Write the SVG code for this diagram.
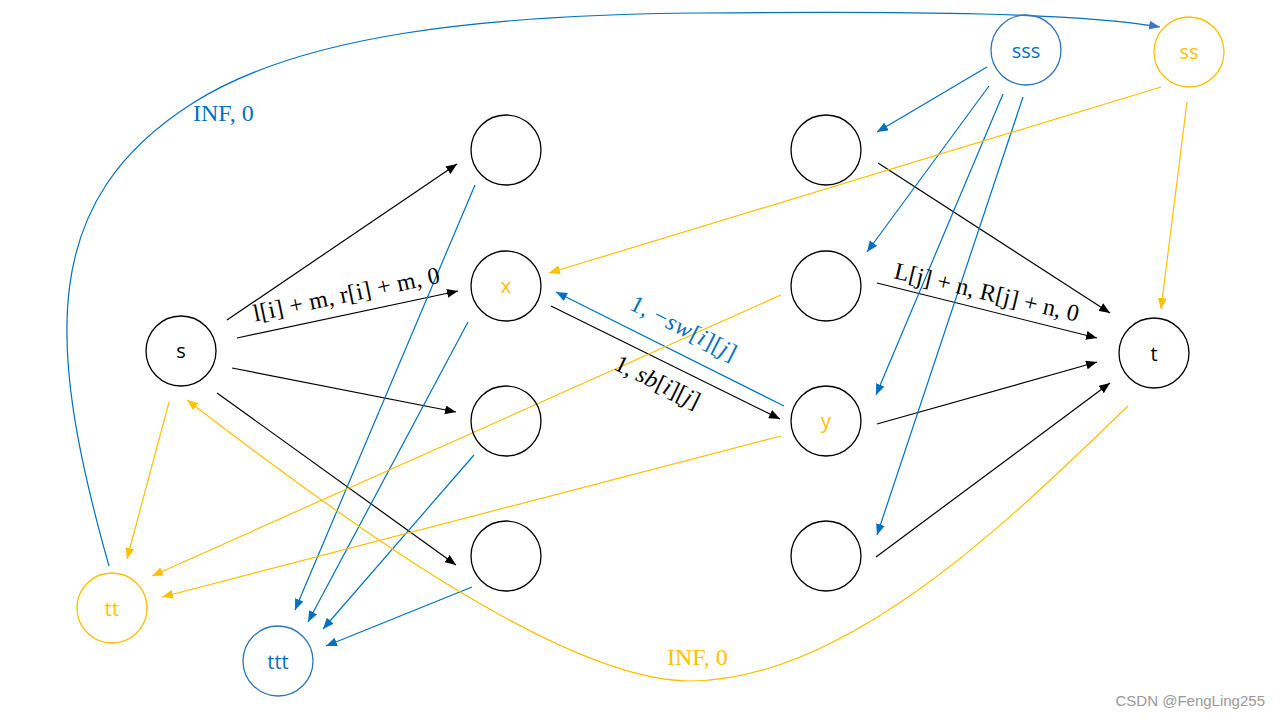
<svg xmlns="http://www.w3.org/2000/svg" width="1280" height="720" viewBox="0 0 1280 720">
<style>
.n{fill:none;stroke-width:1.3}
.k{stroke:#000}
.b{stroke:#0070C0}
.y{stroke:#FFC000}
.e{fill:none;stroke-width:1.2}
.lbl{font-family:"Liberation Serif","Times New Roman",serif;font-size:24px}
.nt{font-family:"Open Sans","Noto Sans",sans-serif;font-size:20px;text-anchor:middle}
</style>
<defs>
<marker id="ak" markerUnits="userSpaceOnUse" markerWidth="12" markerHeight="9" refX="11" refY="4.5" orient="auto"><path d="M0,0 L11,4.5 L0,9 z" fill="#000"/></marker>
<marker id="ab" markerUnits="userSpaceOnUse" markerWidth="12" markerHeight="9" refX="11" refY="4.5" orient="auto"><path d="M0,0 L11,4.5 L0,9 z" fill="#0070C0"/></marker>
<marker id="ab2" markerUnits="userSpaceOnUse" markerWidth="12" markerHeight="9" refX="11" refY="4.5" orient="auto"><path d="M0,0 L11,4.5 L0,9 z" fill="#4472C4"/></marker>
<marker id="ay" markerUnits="userSpaceOnUse" markerWidth="12" markerHeight="9" refX="11" refY="4.5" orient="auto"><path d="M0,0 L11,4.5 L0,9 z" fill="#FFC000"/></marker>
</defs>
<rect width="1280" height="720" fill="#fff"/>

<g id="connectors">
<g class="e k" marker-end="url(#ak)">
<line x1="227" y1="320" x2="457" y2="164"/>
<line x1="237" y1="338" x2="458" y2="291"/>
<line x1="232" y1="368" x2="456" y2="412"/>
<line x1="217" y1="393" x2="456" y2="565"/>
<line x1="551" y1="306" x2="780" y2="419"/>
<line x1="878" y1="163" x2="1110" y2="313"/>
<line x1="877" y1="283" x2="1097" y2="338"/>
<line x1="877" y1="424" x2="1097" y2="362"/>
<line x1="876" y1="557" x2="1110" y2="383"/>
</g>
<g class="e b" marker-end="url(#ab)">
<line x1="784" y1="406" x2="556" y2="292"/>
<line x1="987" y1="67" x2="877" y2="132"/>
<line x1="989" y1="86" x2="867" y2="252"/>
<line x1="1003" y1="94" x2="876" y2="395"/>
<line x1="1023" y1="97" x2="877" y2="535"/>
<line x1="475" y1="185" x2="295" y2="610"/>
<line x1="468" y1="322" x2="308" y2="622"/>
<line x1="474" y1="455" x2="323" y2="629"/>
<line x1="472" y1="587" x2="326" y2="646"/>
</g>
<path class="e b" marker-end="url(#ab2)" d="M109,566 C45,340 40,200 193,103 C300,35 480,15 700,13 C920,11 1080,13 1160,27"/>
<g class="e y" marker-end="url(#ay)">
<line x1="1161" y1="87" x2="549" y2="273"/>
<line x1="1187" y1="102" x2="1161" y2="309"/>
<line x1="781" y1="295" x2="152" y2="576"/>
<line x1="781" y1="436" x2="162" y2="597"/>
<line x1="169" y1="402" x2="127" y2="559"/>
<path d="M1128,406 C1020,510 850,681 690,681 C560,681 330,510 187,400"/>
</g>
</g>

<g id="labels">
<text class="lbl" fill="#000" x="348" y="302" text-anchor="middle" textLength="190" transform="rotate(-11.8 348 302)">l[i] + m, r[i] + m, 0</text>
<text class="lbl" fill="#000" x="985" y="300" text-anchor="middle" textLength="189" transform="rotate(13.4 985 300)">L[j] + n, R[j] + n, 0</text>
<text class="lbl" fill="#000" x="654" y="389" text-anchor="middle" textLength="92" transform="rotate(26 654 389)">1, <tspan font-style="italic">sb</tspan>[<tspan font-style="italic">i</tspan>][<tspan font-style="italic">j</tspan>]</text>
<text class="lbl" fill="#0070C0" x="680" y="335" text-anchor="middle" textLength="116" transform="rotate(27 680 335)">1, −<tspan font-style="italic">sw</tspan>[<tspan font-style="italic">i</tspan>][<tspan font-style="italic">j</tspan>]</text>
<text class="lbl" fill="#0070C0" x="193" y="121">INF, 0</text>
<text class="lbl" fill="#FFC000" x="667" y="665">INF, 0</text>
</g>

<g id="node-s"><circle class="n k" cx="181" cy="351" r="35"/><text class="nt" x="181" y="358" fill="#000">s</text></g>
<g id="node-l1"><circle class="n k" cx="506" cy="150" r="35"/></g>
<g id="node-x"><circle class="n k" cx="506" cy="286" r="35"/><text class="nt" x="506" y="293" fill="#FFC000">x</text></g>
<g id="node-l3"><circle class="n k" cx="506" cy="421" r="35"/></g>
<g id="node-l4"><circle class="n k" cx="506" cy="556" r="35"/></g>
<g id="node-r1"><circle class="n k" cx="826" cy="150" r="35"/></g>
<g id="node-r2"><circle class="n k" cx="826" cy="286" r="35"/></g>
<g id="node-y"><circle class="n k" cx="826" cy="421" r="35"/><text class="nt" x="826" y="428" fill="#FFC000">y</text></g>
<g id="node-r4"><circle class="n k" cx="826" cy="556" r="35"/></g>
<g id="node-t"><circle class="n k" cx="1154" cy="353" r="35"/><text class="nt" x="1154" y="361" fill="#000">t</text></g>
<g id="node-sss"><circle class="n" stroke="#2E75B6" cx="1026" cy="50" r="35"/><text class="nt" x="1026" y="58" fill="#0070C0">sss</text></g>
<g id="node-ss"><circle class="n y" cx="1189" cy="52" r="35"/><text class="nt" x="1189" y="59" fill="#FFC000">ss</text></g>
<g id="node-tt"><circle class="n y" cx="112" cy="608" r="35"/><text class="nt" x="112" y="616" fill="#FFC000">tt</text></g>
<g id="node-ttt"><circle class="n" stroke="#2E75B6" cx="278" cy="661" r="35"/><text class="nt" x="278" y="669" fill="#0070C0">ttt</text></g>

<text x="1265" y="706" text-anchor="end" font-family="Liberation Sans,Arial,sans-serif" font-size="15" fill="#999">CSDN @FengLing255</text>
</svg>
